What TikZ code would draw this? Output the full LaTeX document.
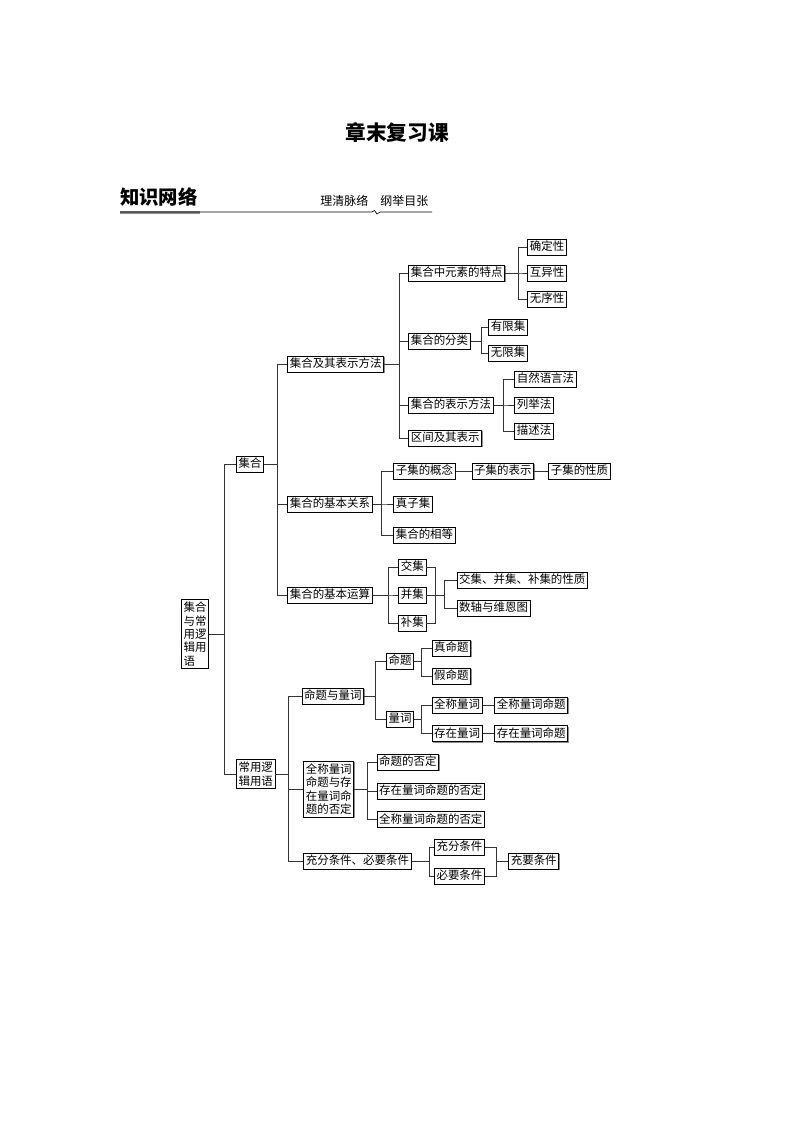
\documentclass[tikz,border=0pt]{standalone}
\usepackage{fontspec}
\newfontfamily\cjk{Noto Sans CJK SC}
\usepackage{tikz}
\usetikzlibrary{shadows}

\begin{document}
\begin{tikzpicture}
[x=0.75pt,y=-0.75pt,
frame/.style={draw, line width=0.6pt, fill=white, anchor=west,
  inner xsep=1.6pt, inner ysep=1.5pt,
  font=\cjk\fontsize{8.6pt}{10pt}\selectfont,
  drop shadow={shadow xshift=0.6pt,shadow yshift=-0.6pt,fill=black!45,opacity=1}},
box node/.style={frame, text height=7.4pt, text depth=1.6pt},
tall node/.style={frame, align=left, inner ysep=2pt},
link/.style={draw=black!80, line width=0.6pt}]

  \useasboundingbox (0,0) rectangle (794,1123);

  % heading
  \node[font=\cjk\bfseries\fontsize{15.5pt}{18pt}\selectfont] (title) at (397,133) {章末复习课};
  \node[anchor=west, inner sep=0, font=\cjk\bfseries\fontsize{14.5pt}{16pt}\selectfont] (net) at (120,197) {知识网络};
  \node[anchor=west, inner sep=0, font=\cjk\fontsize{9pt}{10pt}\selectfont] (motto) at (320,201) {理清脉络\hspace{1em}纲举目张};
  \fill[black!45] (120,211) rectangle (200,214);
  \draw[line width=0.5pt] (120,212) -- (372,212) -- (374.5,210.5) -- (377,214) -- (380,212) -- (432,212);

  % root
  \node[tall node] (root) at (181,634) {集合\\与常\\用逻\\辑用\\语};
  \node[box node] (jh) at (236,464) {集合};
  \node[tall node] (ljyy) at (236,774) {常用逻\\辑用语};

  % sets
  \node[box node] (jhbs) at (287.3,364) {集合及其表示方法};
  \node[box node] (tedian) at (408.3,273) {集合中元素的特点};
  \node[box node] (qdx) at (527.3,247) {确定性};
  \node[box node] (hyx) at (527.3,273) {互异性};
  \node[box node] (wxx) at (527.3,299) {无序性};
  \node[box node] (fenlei) at (408.3,341) {集合的分类};
  \node[box node] (yxj) at (488.3,327) {有限集};
  \node[box node] (wxj) at (488.3,353) {无限集};
  \node[box node] (biaoshi) at (408.3,405) {集合的表示方法};
  \node[box node] (zryy) at (514.3,379) {自然语言法};
  \node[box node] (ljf) at (514.3,405) {列举法};
  \node[box node] (msf) at (514.3,431) {描述法};
  \node[box node] (qujian) at (408.3,438) {区间及其表示};

  \node[box node] (guanxi) at (287.3,504) {集合的基本关系};
  \node[box node] (gainian) at (393.3,471) {子集的概念};
  \node[box node] (zjbs) at (471.7,471) {子集的表示};
  \node[box node] (zjxz) at (548.3,471) {子集的性质};
  \node[box node] (zzj) at (393.3,504) {真子集};
  \node[box node] (xiangdeng) at (393.3,535) {集合的相等};

  \node[box node] (yunsuan) at (287.3,595) {集合的基本运算};
  \node[box node] (jiao) at (398.3,567) {交集};
  \node[box node] (bing) at (398.3,595) {并集};
  \node[box node] (bu) at (398.3,623) {补集};
  \node[box node] (xingzhi) at (456.7,580) {交集、并集、补集的性质};
  \node[box node] (weien) at (456.7,608) {数轴与维恩图};

  % logic
  \node[box node] (mtlc) at (301.7,696) {命题与量词};
  \node[box node] (mingti) at (386,661) {命题};
  \node[box node] (zmt) at (431.7,648) {真命题};
  \node[box node] (jmt) at (431.7,676) {假命题};
  \node[box node] (liangci) at (386,719) {量词};
  \node[box node] (qclc) at (431.7,705) {全称量词};
  \node[box node] (czlc) at (431.7,733.7) {存在量词};
  \node[box node] (qcmt) at (494.3,705) {全称量词命题};
  \node[box node] (czmt) at (494.3,733.7) {存在量词命题};

  \node[tall node] (fouding) at (303.3,789) {全称量词\\命题与存\\在量词命\\题的否定};
  \node[box node] (mtfd) at (376.7,762) {命题的否定};
  \node[box node] (czfd) at (376.7,791) {存在量词命题的否定};
  \node[box node] (qcfd) at (376.7,819.5) {全称量词命题的否定};

  \node[box node] (tiaojian) at (303.3,861) {充分条件、必要条件};
  \node[box node] (chongfen) at (434,847) {充分条件};
  \node[box node] (biyao) at (434,876) {必要条件};
  \node[box node] (chongyao) at (508.3,861) {充要条件};

  % connectors
  \foreach \c in {jh,ljyy} \draw[link] (root.east) -- ++(15,0) |- (\c.west);
  \foreach \c in {jhbs,guanxi,yunsuan} \draw[link] (jh.east) -- ++(13,0) |- (\c.west);
  \foreach \c in {tedian,fenlei,biaoshi,qujian} \draw[link] (jhbs.east) -- ++(15.6,0) |- (\c.west);
  \foreach \c in {qdx,hyx,wxx} \draw[link] (tedian.east) -- ++(13.4,0) |- (\c.west);
  \foreach \c in {yxj,wxj} \draw[link] (fenlei.east) -- ++(11,0) |- (\c.west);
  \foreach \c in {zryy,ljf,msf} \draw[link] (biaoshi.east) -- ++(9.4,0) |- (\c.west);
  \foreach \c in {gainian,zzj,xiangdeng} \draw[link] (guanxi.east) -- ++(9,0) |- (\c.west);
  \draw[link] (gainian) -- (zjbs);
  \draw[link] (zjbs) -- (zjxz);
  \foreach \c in {jiao,bing,bu} \draw[link] (yunsuan.east) -- ++(15.6,0) |- (\c.west);
  \draw[link] (jiao.east) -- ++(9.4,0) |- (bu.east);
  \foreach \c in {xingzhi,weien} \draw[link] (bing.east) -- ++(18.4,0) |- (\c.west);

  \foreach \c in {mtlc,fouding,tiaojian} \draw[link] (ljyy.east) -- ++(13,0) |- (\c.west);
  \foreach \c in {mingti,liangci} \draw[link] (mtlc.east) -- ++(11.7,0) |- (\c.west);
  \foreach \c in {zmt,jmt} \draw[link] (mingti.east) -- ++(7.6,0) |- (\c.west);
  \foreach \c in {qclc,czlc} \draw[link] (liangci.east) -- ++(7.6,0) |- (\c.west);
  \draw[link] (qclc) -- (qcmt);
  \draw[link] (czlc) -- (czmt);
  \foreach \c in {mtfd,czfd,qcfd} \draw[link] (fouding.east) -- ++(13.3,0) |- (\c.west);
  \foreach \c in {chongfen,biyao} \draw[link] (tiaojian.east) -- ++(18.3,0) |- (\c.west);
  \draw[link] (chongfen.east) -- ++(11,0) coordinate (cfR) |- (biyao.east);
  \draw[link] (chongyao.west) -- (chongyao.west -| cfR);

\end{tikzpicture}
\end{document}
